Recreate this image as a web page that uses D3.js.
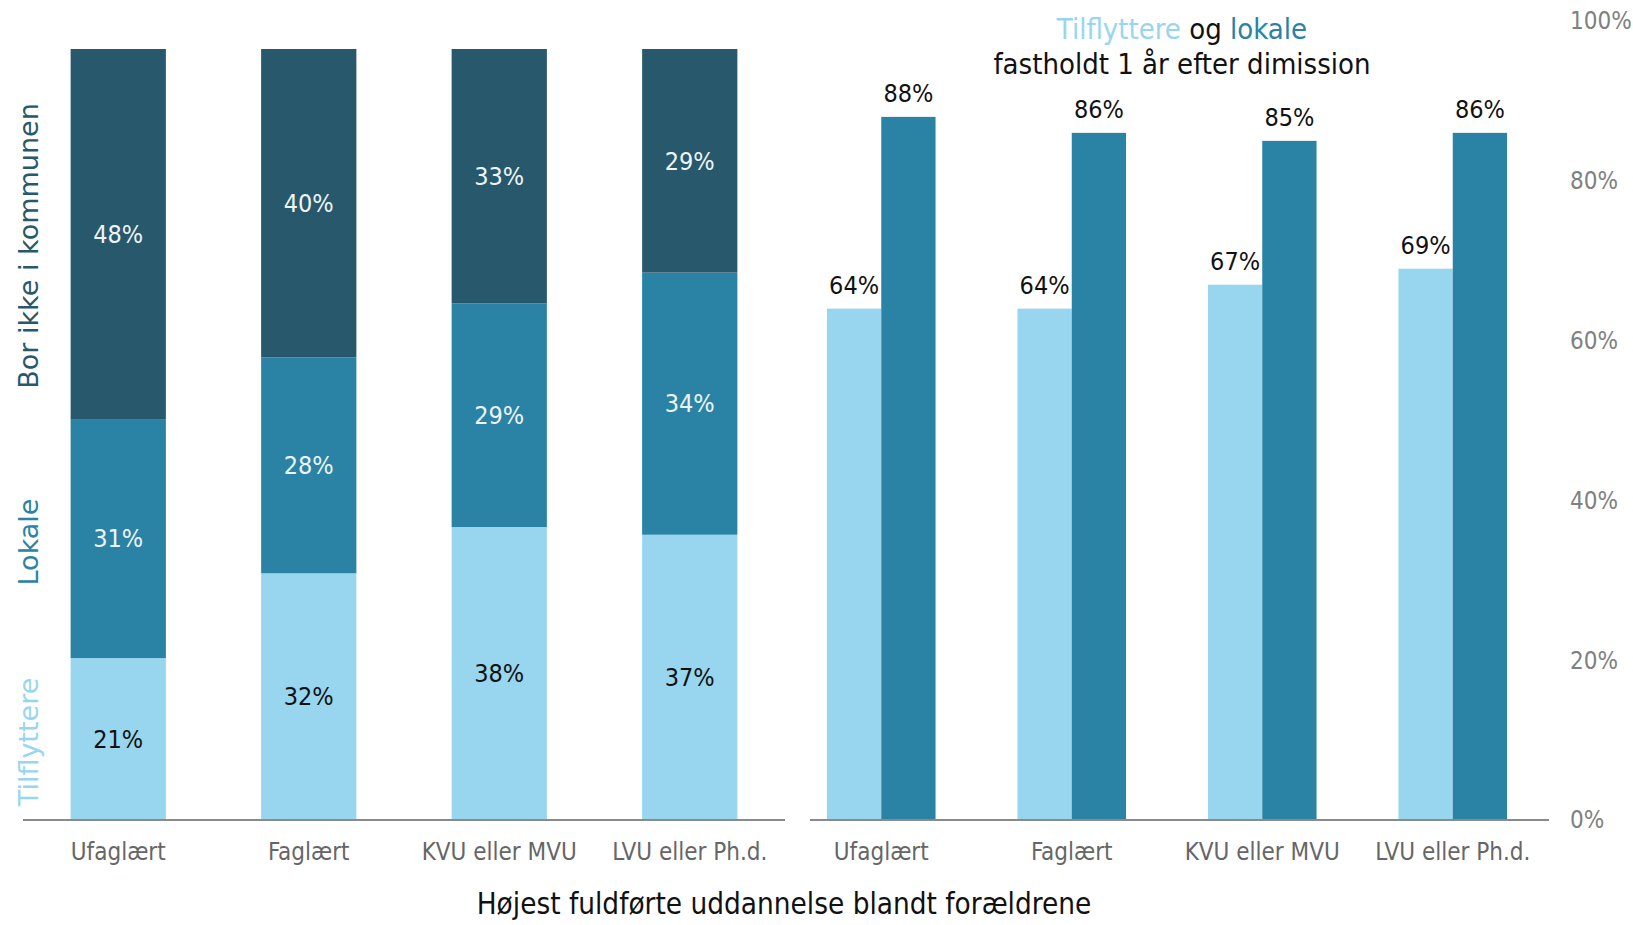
<!DOCTYPE html>
<html>
<head>
<meta charset="utf-8">
<script src="https://cdn.jsdelivr.net/npm/d3@7"></script>
<style>
  body { margin: 0; background: #fff; }
  svg text { font-family: "Liberation Sans Narrow", "DejaVu Sans Condensed", "Roboto", sans-serif; }
</style>
</head>
<body>
<div id="chart"></div>
<script>
// data
const categories = ["Ufaglært", "Faglært", "KVU eller MVU", "LVU eller Ph.d."];
const tilflyttereShare = [21, 32, 38, 37];
const lokaleShare = [31, 28, 29, 34];
const borIkkeShare = [48, 40, 33, 29];
const tilflyttereRetained = [64, 64, 67, 69];
const lokaleRetained = [88, 86, 85, 86];
const yTicks = [0, 20, 40, 60, 80, 100];

const colLight = "#98d6ef", colMid = "#2a83a5", colDark = "#27586b";

const W = 1633, H = 925;
const svg = d3.select("#chart").append("svg").attr("width", W).attr("height", H);

// ---- left: stacked bars ----
const leftX = d3.scaleBand().domain(categories).range([23, 785]).paddingInner(0.5).paddingOuter(0.25);
const leftY = d3.scaleLinear().domain([0, 100]).range([820, 49]);

const stackRows = categories.map((c, i) => ({
  cat: c, tilfl: tilflyttereShare[i], lokale: lokaleShare[i], borikke: borIkkeShare[i]
}));
const keys = ["tilfl", "lokale", "borikke"];
const keyColor = { tilfl: colLight, lokale: colMid, borikke: colDark };
const keyText = { tilfl: "#111", lokale: "#eef4f7", borikke: "#eef4f7" };
const stacked = d3.stack().keys(keys)(stackRows);

const left = svg.append("g");
stacked.forEach(layer => {
  const g = left.append("g");
  g.selectAll("rect").data(layer).enter().append("rect")
    .attr("x", d => leftX(d.data.cat))
    .attr("width", leftX.bandwidth())
    .attr("y", d => leftY(d[1]))
    .attr("height", d => leftY(d[0]) - leftY(d[1]))
    .attr("fill", keyColor[layer.key]);
  g.selectAll("text").data(layer).enter().append("text")
    .attr("x", d => leftX(d.data.cat) + leftX.bandwidth() / 2)
    .attr("y", d => (leftY(d[0]) + leftY(d[1])) / 2)
    .attr("dy", "0.35em")
    .attr("text-anchor", "middle")
    .attr("font-size", 25)
    .attr("fill", keyText[layer.key])
    .text(d => (d[1] - d[0]) + "%");
});

left.append("line").attr("x1", 23).attr("x2", 785).attr("y1", 820).attr("y2", 820)
  .attr("stroke", "#8a8a8a").attr("stroke-width", 2);

left.selectAll(".cat").data(categories).enter().append("text")
  .attr("x", d => leftX(d) + leftX.bandwidth() / 2)
  .attr("y", 860)
  .attr("text-anchor", "middle")
  .attr("font-size", 24)
  .attr("fill", "#666")
  .text(d => d);

// rotated series labels
const sideLabels = [
  { text: "Tilflyttere", y: 742, color: colLight },
  { text: "Lokale", y: 542, color: colMid },
  { text: "Bor ikke i kommunen", y: 246, color: colDark }
];
svg.selectAll(".side").data(sideLabels).enter().append("text")
  .attr("transform", d => `translate(38,${d.y}) rotate(-90)`)
  .attr("text-anchor", "middle")
  .attr("font-size", 27)
  .style("font-family", "'DejaVu Sans', sans-serif")
  .attr("fill", d => d.color)
  .text(d => d.text);

// ---- right: grouped bars ----
const rightX = d3.scaleBand().domain(categories).range([786, 1548]).paddingInner(0.43).paddingOuter(0.215);
const subX = d3.scaleBand().domain(["tilfl", "lokale"]).range([0, rightX.bandwidth()]);
const rightY = d3.scaleLinear().domain([0, 100]).range([820, 21]);

const groupRows = categories.map((c, i) => ({
  cat: c, vals: [{ key: "tilfl", v: tilflyttereRetained[i] }, { key: "lokale", v: lokaleRetained[i] }]
}));
const right = svg.append("g");
const groups = right.selectAll(".grp").data(groupRows).enter().append("g")
  .attr("transform", d => `translate(${rightX(d.cat)},0)`);
groups.selectAll("rect").data(d => d.vals).enter().append("rect")
  .attr("x", d => subX(d.key))
  .attr("width", subX.bandwidth())
  .attr("y", d => rightY(d.v))
  .attr("height", d => rightY(0) - rightY(d.v))
  .attr("fill", d => keyColor[d.key]);
groups.selectAll("text").data(d => d.vals).enter().append("text")
  .attr("x", d => subX(d.key) + subX.bandwidth() / 2)
  .attr("y", d => rightY(d.v) - 15)
  .attr("text-anchor", "middle")
  .attr("font-size", 25)
  .attr("fill", "#111")
  .text(d => d.v + "%");

right.append("line").attr("x1", 810).attr("x2", 1549).attr("y1", 820).attr("y2", 820)
  .attr("stroke", "#8a8a8a").attr("stroke-width", 2);

right.selectAll(".cat").data(categories).enter().append("text")
  .attr("x", d => rightX(d) + rightX.bandwidth() / 2)
  .attr("y", 860)
  .attr("text-anchor", "middle")
  .attr("font-size", 24)
  .attr("fill", "#666")
  .text(d => d);

right.selectAll(".tick").data(yTicks).enter().append("text")
  .attr("x", 1570)
  .attr("y", d => rightY(d))
  .attr("dy", "0.35em")
  .attr("font-size", 24)
  .attr("fill", "#808080")
  .text(d => d + "%");

// title
const title = svg.append("text").attr("x", 1182).attr("y", 39).attr("text-anchor", "middle").attr("font-size", 29);
title.append("tspan").attr("fill", colLight).text("Tilflyttere");
title.append("tspan").attr("fill", "#111").text(" og ");
title.append("tspan").attr("fill", colMid).text("lokale");
svg.append("text").attr("x", 1182).attr("y", 74).attr("text-anchor", "middle").attr("font-size", 29)
  .attr("fill", "#111").text("fastholdt 1 år efter dimission");

// x axis title
svg.append("text").attr("x", 784).attr("y", 914).attr("text-anchor", "middle").attr("font-size", 29.4)
  .attr("fill", "#111").text("Højest fuldførte uddannelse blandt forældrene");
</script>
</body>
</html>
